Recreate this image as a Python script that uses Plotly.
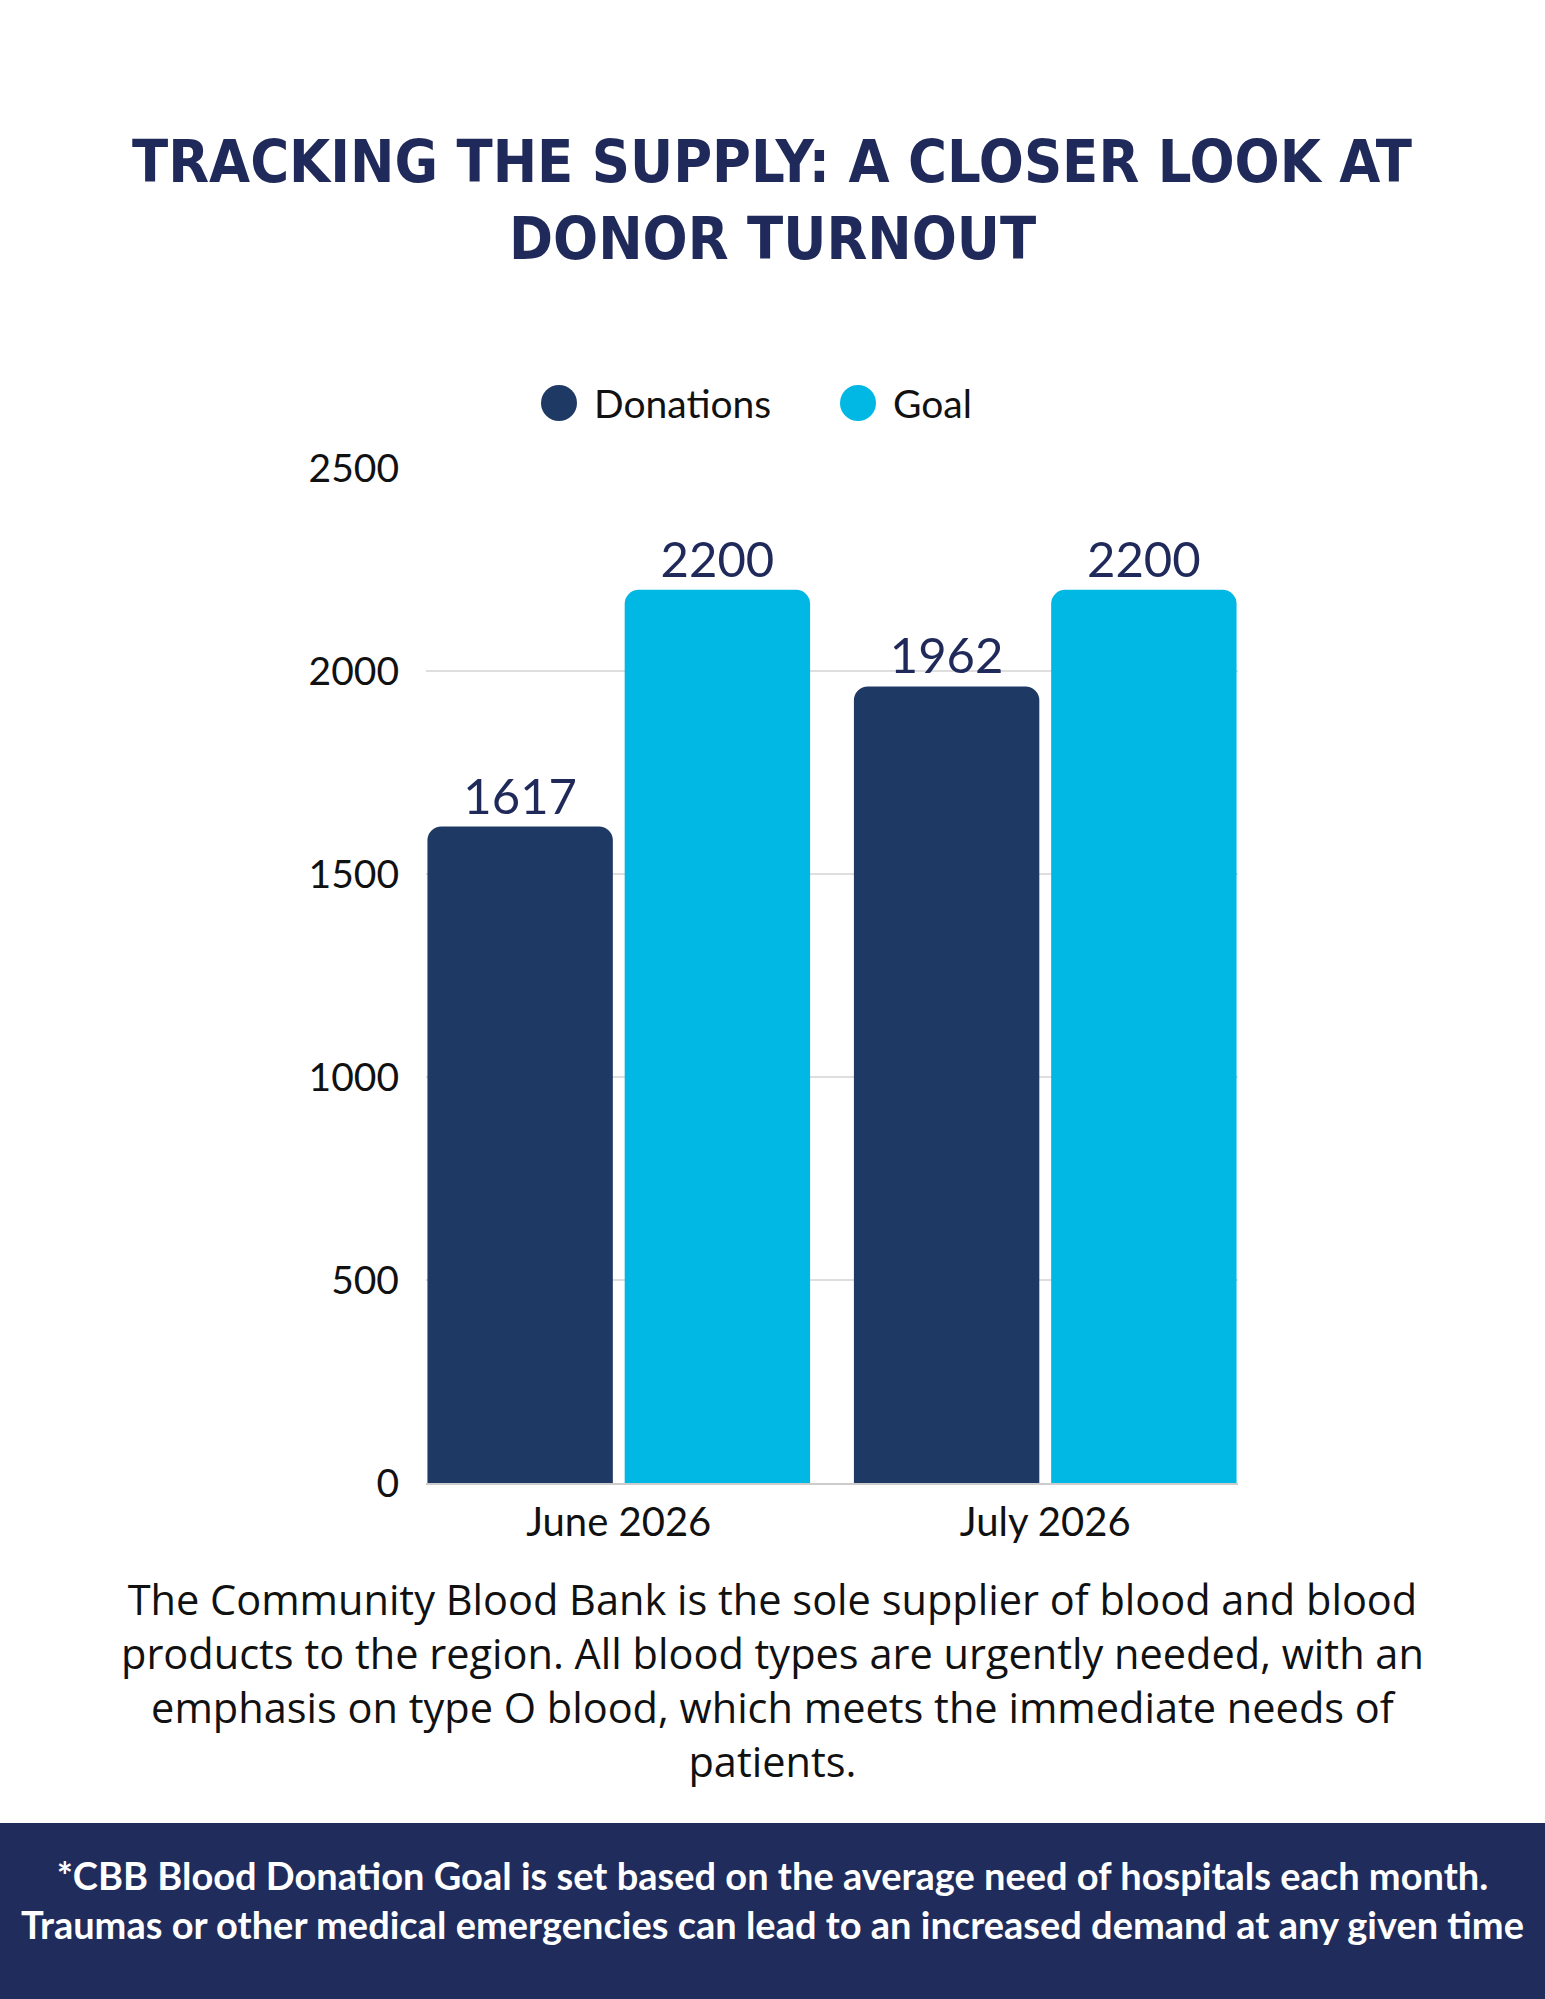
import plotly.graph_objects as go

# chart data
months = ['June 2026', 'July 2026']
donations = [1617, 1962]
goal = [2200, 2200]
series_names = ['Donations', 'Goal']
y_ticks = [0, 500, 1000, 1500, 2000, 2500]

title_lines = ['TRACKING THE SUPPLY: A CLOSER LOOK AT', 'DONOR TURNOUT']
body_text = ('The Community Blood Bank is the sole supplier of blood and blood<br>'
             'products to the region. All blood types are urgently needed, with an<br>'
             'emphasis on type O blood, which meets the immediate needs of<br>'
             'patients.')
footer_text = ('*CBB Blood Donation Goal is set based on the average need of hospitals each month.<br>'
               'Traumas or other medical emergencies can lead to an increased demand at any given time')

NAVY = '#1e3a64'
CYAN = '#00b8e3'
TITLE_NAVY = '#1f2a5a'
BAND = '#1f2c5c'

W, H = 1545, 1999
# plot area in pixels
L, R, T, B = 426, 1238, 468, 1483
PW, PH = R - L, B - T


def px_x(x):
  return (x - L) / PW


def px_y(y):
  return (B - y) / PH


fig = go.Figure()

for name, vals, col in zip(series_names, [donations, goal], [NAVY, CYAN]):
  fig.add_trace(go.Bar(x=months, y=vals, name=name,
                       marker=dict(color=col, cornerradius=14, line=dict(width=0)),
                       text=vals, textposition='outside',
                       textfont=dict(family='Lato, sans-serif', size=49, color=TITLE_NAVY),
                       cliponaxis=False, showlegend=False))

shapes = []
annotations = []

# title
for line, ypx in zip(title_lines, [162, 239]):
  annotations.append(dict(text='<b>' + line + '</b>', x=px_x(772), y=px_y(ypx),
                          xref='paper', yref='paper', showarrow=False,
                          xanchor='center', yanchor='middle',
                          font=dict(family='DejaVu Sans Condensed, sans-serif',
                                    size=59, color=TITLE_NAVY)))

# legend (circle swatches + labels)
for name, col, cx in zip(series_names, [NAVY, CYAN], [559, 858]):
  shapes.append(dict(type='circle', xref='paper', yref='paper',
                     xsizemode='pixel', ysizemode='pixel',
                     xanchor=px_x(cx), yanchor=px_y(403),
                     x0=-18, x1=18, y0=-18, y1=18,
                     fillcolor=col, line=dict(width=0)))
  annotations.append(dict(text=name, x=px_x(cx + 33), y=px_y(403),
                          xref='paper', yref='paper', showarrow=False,
                          xanchor='left', yanchor='middle',
                          font=dict(family='Lato, sans-serif', size=39, color='#111111')))

# body paragraph
annotations.append(dict(text=body_text, x=px_x(772), y=px_y(1680),
                        xref='paper', yref='paper', showarrow=False,
                        xanchor='center', yanchor='middle', align='center',
                        font=dict(family='Open Sans, sans-serif', size=41.5, color='#111111')))

# footer band
shapes.append(dict(type='rect', xref='paper', yref='paper', layer='below',
                   x0=px_x(0), x1=px_x(W), y0=px_y(1823), y1=px_y(H + 500),
                   fillcolor=BAND, line=dict(width=0)))
annotations.append(dict(text='<b>' + footer_text + '</b>', x=px_x(772), y=px_y(1899),
                        xref='paper', yref='paper', showarrow=False,
                        xanchor='center', yanchor='middle', align='center',
                        font=dict(family='Lato, sans-serif', size=38, color='white')))

fig.update_layout(width=W, height=H,
                  margin=dict(l=L, r=W - R, t=T, b=H - B, pad=0),
                  paper_bgcolor='white', plot_bgcolor='white',
                  barmode='group', bargap=0.075, bargroupgap=0.06,
                  shapes=shapes, annotations=annotations,
                  font=dict(family='Lato, sans-serif', color='#111111'))

fig.update_xaxes(range=[-0.452, 1.452], showgrid=False, zeroline=False,
                 showline=True, linecolor='#cccccc', linewidth=2,
                 ticks='', ticklabelstandoff=3,
                 tickfont=dict(family='Lato, sans-serif', size=40, color='#111111'))
fig.update_yaxes(range=[0, 2500], tickvals=y_ticks, showgrid=True,
                 gridcolor='#dedede', gridwidth=1.5, zeroline=False,
                 showline=False, ticks='', ticklabelstandoff=26,
                 tickfont=dict(family='Lato, sans-serif', size=39, color='#111111'))

fig.write_html("out.html", config={'displayModeBar': False},
               post_script="document.body.style.margin='0';")
